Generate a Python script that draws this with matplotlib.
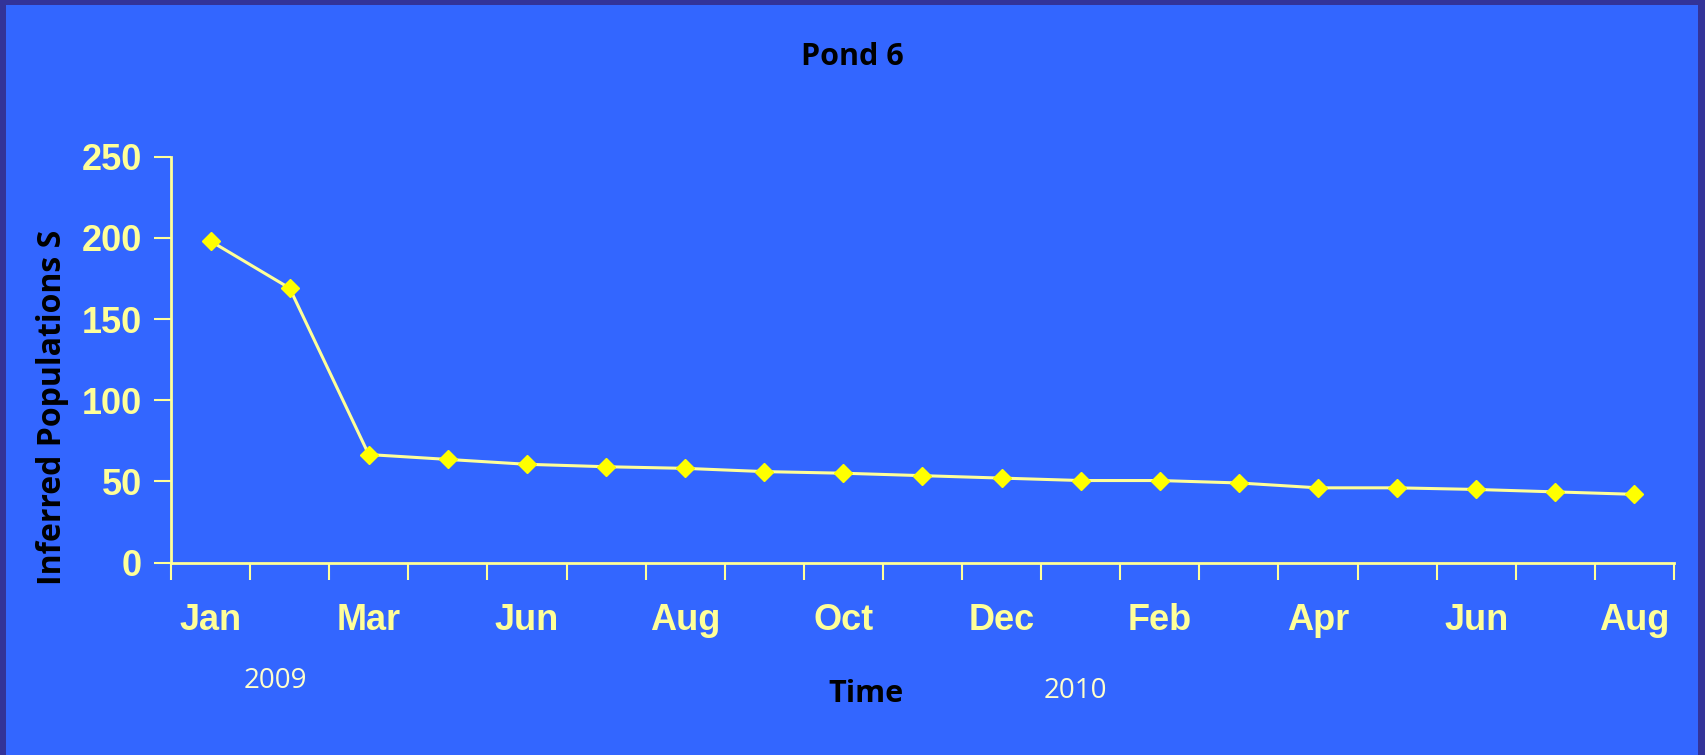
import numpy as np
import matplotlib.pyplot as plt
from matplotlib.patches import Rectangle

# data (monthly, Jan 2009 - Aug 2010, category axis)
months = ['Jan', '', 'Mar', '', 'Jun', '', 'Aug', '', 'Oct', '', 'Dec', '',
          'Feb', '', 'Apr', '', 'Jun', '', 'Aug']
population = [198, 169, 66.5, 63.5, 60.5, 59, 58, 56, 55, 53.5, 52, 50.5,
              50.5, 49, 46, 46, 45, 43.5, 42]
y_ticks = [0, 50, 100, 150, 200, 250]

W, H = 1706, 755
outer = '#333399'
inner = '#3366FF'
pale = '#FFFF99'
tick_font = ['Liberation Sans Narrow', 'Liberation Sans', 'DejaVu Sans']
text_font = ['Open Sans', 'DejaVu Sans']

fig = plt.figure(figsize=(W / 100, H / 100), dpi=100, facecolor=outer)
# inner blue panel inside the dark frame
fig.patches.append(Rectangle((6 / W, 0), (1698 - 6) / W, (H - 5) / H,
                             transform=fig.transFigure, facecolor=inner,
                             edgecolor='none', zorder=-1))

ax = fig.add_axes([171 / W, 192.5 / H, 1503 / W, 405.8 / H])
ax.set_facecolor('none')

x = np.arange(len(population))
ax.plot(x, population, color=pale, lw=2.2, marker='D', ms=9,
        mfc='#FFFF00', mec='#FFFF00', zorder=3, clip_on=False)

ax.set_xlim(-0.5, len(population) - 0.5)
ax.set_ylim(0, 250)
ax.set_yticks(y_ticks)

# category boundaries get the tick marks, labels sit on the centres
ax.set_xticks(np.arange(-0.5, len(population), 1.0))
ax.set_xticklabels([])
ax.set_xticks(x, minor=True)
ax.set_xticklabels(months, minor=True)

for s in ['top', 'right']:
    ax.spines[s].set_visible(False)
for s in ['left', 'bottom']:
    ax.spines[s].set_color(pale)
    ax.spines[s].set_linewidth(2)

ax.tick_params(axis='both', which='major', direction='out', length=12,
               width=1.5, color=pale)
ax.tick_params(axis='x', which='minor', length=0, pad=29)
ax.tick_params(axis='y', pad=9)
for lab in ax.get_yticklabels() + ax.get_xticklabels(minor=True):
    lab.set_family(tick_font)
    lab.set_fontweight('bold')
    lab.set_fontsize(26)
    lab.set_color(pale)

fig.text(852 / W, 1 - 57 / H, 'Pond 6', ha='center', va='center',
         fontsize=22, fontweight='bold', color='black', family=text_font)
fig.text(53 / W, 1 - 407 / H, 'Inferred Populations S', rotation=90,
         ha='center', va='center', fontsize=23, fontweight='bold',
         color='black', family=text_font)
fig.text(866 / W, 1 - 694 / H, 'Time', ha='center', va='center',
         fontsize=22, fontweight='bold', color='black', family=text_font)
fig.text(275 / W, 1 - 681 / H, '2009', ha='center', va='center',
         fontsize=20, color='#FFFFCC', family=text_font)
fig.text(1075 / W, 1 - 691 / H, '2010', ha='center', va='center',
         fontsize=20, color='#FFFFCC', family=text_font)

fig.savefig('out.png', dpi=100, facecolor=outer)
